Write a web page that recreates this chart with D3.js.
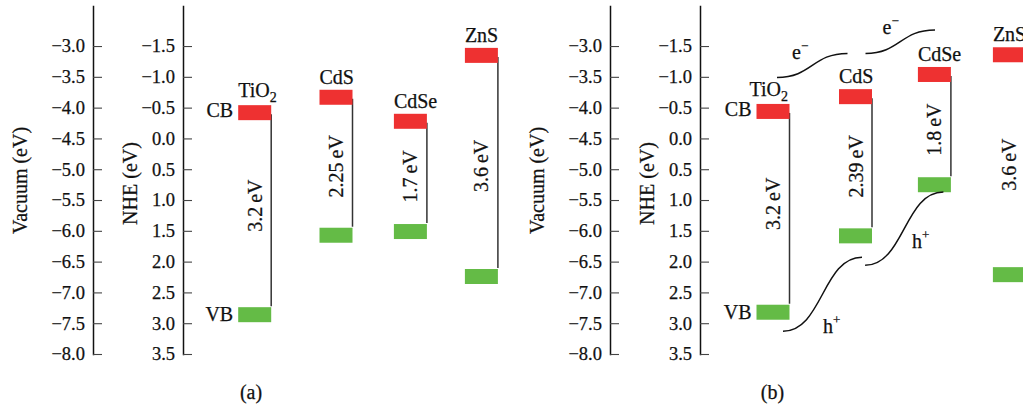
<!DOCTYPE html>
<html>
<head>
<meta charset="utf-8">
<script src="https://cdn.jsdelivr.net/npm/d3@7"></script>
<style>
  body { margin: 0; background: #fff; }
  svg text { font-family: 'Liberation Serif', 'Times New Roman', serif; fill: #111; stroke: #111; stroke-width: 0.25px; }
</style>
</head>
<body>
<svg id="chart" width="1023" height="411"></svg>
<script>
const materials = ['TiO2', 'CdS', 'CdSe', 'ZnS'];

// band edges in eV vs vacuum
const cbA = [-3.96, -3.71, -4.10, -3.03];
const vbA = [-7.24, -5.95, -5.89, -6.62];
const gapA = ['3.2', '2.25', '1.7', '3.6'];

const cbB = [-3.94, -3.70, -3.34, -3.02];
const vbB = [-7.20, -5.96, -5.13, -6.59];
const gapB = ['3.2', '2.39', '1.8', '3.6'];

const vacuumTicks = [-3.0, -3.5, -4.0, -4.5, -5.0, -5.5, -6.0, -6.5, -7.0, -7.5, -8.0];
const nheTicks = [-1.5, -1.0, -0.5, 0.0, 0.5, 1.0, 1.5, 2.0, 2.5, 3.0, 3.5];

// charge transfer steps in panel (b): [from, to, start energy, end energy]
const electronSteps = [['TiO2', 'CdS', -3.51, -3.12], ['CdS', 'CdSe', -3.12, -2.74]];
const holeSteps = [['TiO2', 'CdS', -7.63, -6.43], ['CdS', 'CdSe', -6.56, -5.37]];

const red = '#ee3131';
const green = '#64bb46';
const barW = 33, barH = 15;

const svg = d3.select('#chart');

const y = d3.scaleLinear().domain([-2.35, -8.0]).range([6, 354]);
const yNhe = d3.scaleLinear().domain([-4.5 + 2.35, 3.5]).range([6, 354]);

const panels = [
  { name: '(a)', cb: cbA, vb: vbA, gap: gapA, ox: 0, centers: [254.7, 336, 410.4, 481.4], labelX: 251 },
  { name: '(b)', cb: cbB, vb: vbB, gap: gapB, ox: 517, centers: [773, 855.5, 934.4, 1009.4], labelX: 772.5 }
];

function styleAxis(g) {
  g.attr('font-family', 'Liberation Serif, serif').attr('font-size', 18.5);
  g.select('.domain').attr('stroke', '#111').attr('stroke-width', 1.5).attr('stroke-linecap', 'square');
  g.selectAll('.tick line').attr('stroke', '#444').attr('stroke-width', 1.1);
}

function addLabel(g, x, yy, main, sub, opts = {}) {
  const t = g.append('text')
    .attr('x', x)
    .attr('y', yy)
    .attr('font-size', 20)
    .attr('text-anchor', opts.anchor || 'start');
  t.append('tspan').text(main);
  if (sub) t.append('tspan').attr('font-size', 14).attr('dy', 5).text(sub);
  return t;
}

panels.forEach(p => {
  const g = svg.append('g');
  const x = d3.scaleOrdinal(materials, p.centers);

  g.append('g')
    .attr('transform', `translate(${93 + p.ox},0)`)
    .call(d3.axisLeft(y).tickValues(vacuumTicks).tickSize(-9).tickSizeOuter(0).tickPadding(8).tickFormat(d3.format('.1f')))
    .call(styleAxis);

  g.append('g')
    .attr('transform', `translate(${183 + p.ox},0)`)
    .call(d3.axisLeft(yNhe).tickValues(nheTicks).tickSize(-9).tickSizeOuter(0).tickPadding(8).tickFormat(d3.format('.1f')))
    .call(styleAxis);

  g.append('text')
    .attr('transform', `translate(${27 + p.ox},180.5) rotate(-90)`)
    .attr('text-anchor', 'middle')
    .attr('font-size', 20)
    .text('Vacuum (eV)');

  g.append('text')
    .attr('transform', `translate(${136.5 + p.ox},183.5) rotate(-90)`)
    .attr('text-anchor', 'middle')
    .attr('font-size', 20)
    .text('NHE (eV)');

  const rows = materials.map((m, i) => ({ m, cb: p.cb[i], vb: p.vb[i], gap: p.gap[i] }));

  // gap lines
  g.selectAll('line.gap')
    .data(rows)
    .join('line')
    .attr('class', 'gap')
    .attr('x1', d => x(d.m) + barW / 2)
    .attr('x2', d => x(d.m) + barW / 2)
    .attr('y1', d => y(d.cb) + 9)
    .attr('y2', d => y(d.vb) - 1)
    .attr('stroke', '#333')
    .attr('stroke-width', 1.5);

  g.selectAll('rect.cb')
    .data(rows)
    .join('rect')
    .attr('class', 'cb')
    .attr('x', d => x(d.m) - barW / 2)
    .attr('y', d => y(d.cb))
    .attr('width', barW)
    .attr('height', barH)
    .attr('fill', red);

  g.selectAll('rect.vb')
    .data(rows)
    .join('rect')
    .attr('class', 'vb')
    .attr('x', d => x(d.m) - barW / 2)
    .attr('y', d => y(d.vb))
    .attr('width', barW)
    .attr('height', barH)
    .attr('fill', green);

  g.selectAll('text.gaplabel')
    .data(rows)
    .join('text')
    .attr('class', 'gaplabel')
    .attr('transform', d => `translate(${x(d.m)},${(y(d.cb) + y(d.vb)) / 2 + barH / 2 - (d.m === 'TiO2' ? 8 : 0)}) rotate(-90)`)
    .attr('text-anchor', 'middle')
    .attr('dominant-baseline', 'central')
    .attr('font-size', 20)
    .text(d => `${d.gap}\u2009eV`);

  rows.forEach(d => {
    const left = x(d.m) - barW / 2;
    if (d.m === 'TiO2') addLabel(g, left + (p.ox ? -7 : 0), y(d.cb) - 8, 'TiO', '2');
    else addLabel(g, left, y(d.cb) - 6, d.m);
  });

  const ti = rows[0];
  addLabel(g, x('TiO2') - barW / 2 - 5, y(ti.cb) + 12, 'CB', null, { anchor: 'end' });
  addLabel(g, x('TiO2') - barW / 2 - 5, y(ti.vb) + 14, 'VB', null, { anchor: 'end' });

  g.append('text')
    .attr('x', p.labelX)
    .attr('y', 399)
    .attr('text-anchor', 'middle')
    .attr('font-size', 20)
    .text(p.name);

  if (p.ox) {
    const curve = (x0, y0, x1, y1) => {
      const path = d3.path();
      const xm = (x0 + x1) / 2;
      path.moveTo(x0, y0);
      path.bezierCurveTo(xm, y0, xm, y1, x1, y1);
      return path.toString();
    };
    const eLayout = [{ dx0: 4, dx1: -8, lx: 15, ly: -18 }, { dx0: 10, dx1: 0.6, lx: 17, ly: -19 }];
    const hLayout = [{ dx0: 10, dx1: 6.5, lx: 40, ly: 2 }, { dx0: 9.6, dx1: 9, lx: 47, ly: -17 }];
    const drawSteps = (steps, layout, letter, sign) => {
      steps.forEach((s, i) => {
        const L = layout[i];
        const x0 = x(s[0]) + L.dx0, x1 = x(s[1]) + L.dx1;
        const y0 = y(s[2]), y1 = y(s[3]);
        g.append('path')
          .attr('d', curve(x0, y0, x1, y1))
          .attr('fill', 'none')
          .attr('stroke', '#111')
          .attr('stroke-width', 1.5);
        const t = g.append('text')
          .attr('x', x0 + L.lx)
          .attr('y', y0 + L.ly)
          .attr('font-size', 20);
        t.append('tspan').text(letter);
        t.append('tspan').attr('font-size', 13).attr('dy', -9).text(sign);
      });
    };
    drawSteps(electronSteps, eLayout, 'e', '\u2212');
    drawSteps(holeSteps, hLayout, 'h', '+');
  }
});
</script>
</body>
</html>
